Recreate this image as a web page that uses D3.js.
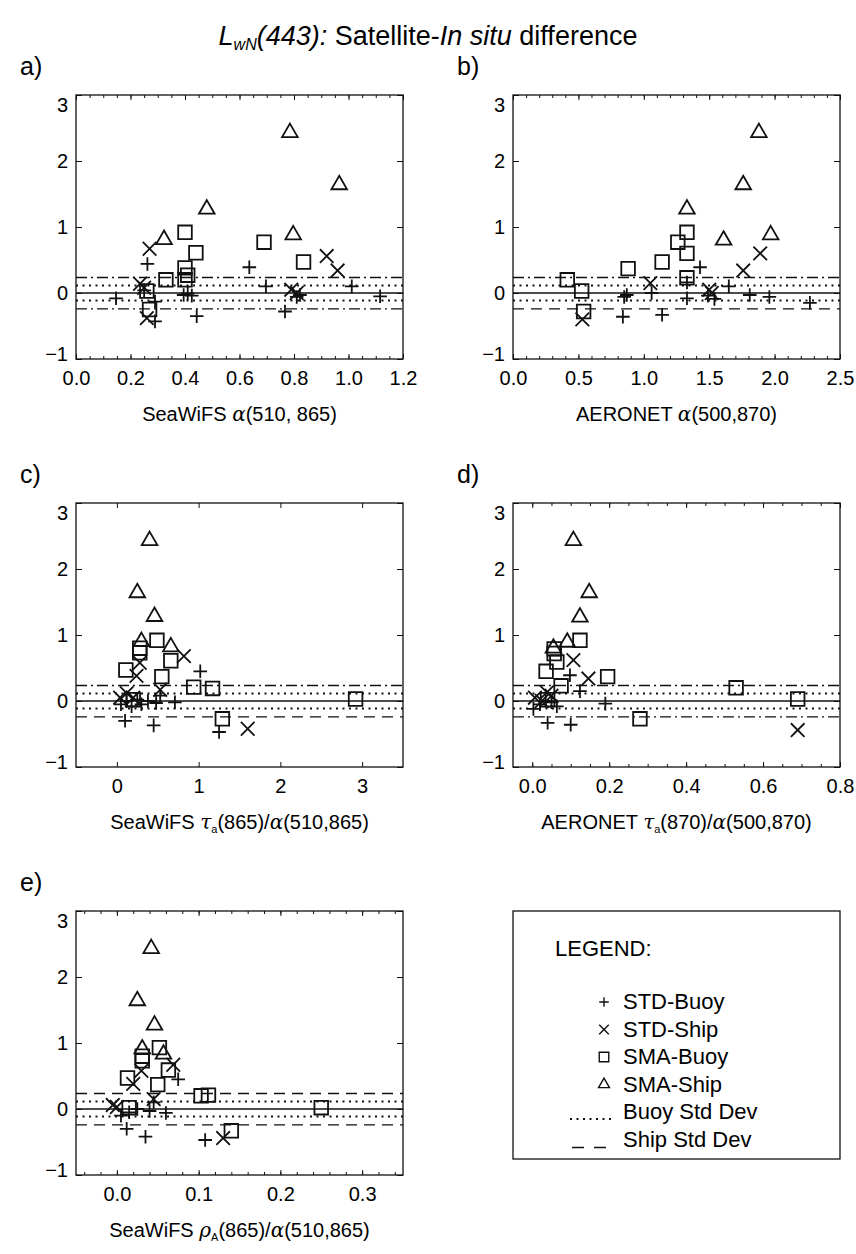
<!DOCTYPE html>
<html>
<head>
<meta charset="utf-8">
<script src="https://cdn.jsdelivr.net/npm/d3@7"></script>
<style>
  body { margin: 0; background: #fff; }
  svg { display: block; font-family: "Liberation Sans", Arial, Helvetica, sans-serif; }
</style>
</head>
<body>
<div id="chart"></div>
<script>
// LwN(443) satellite - in situ differences
var yTicks = [-1, 0, 1, 2, 3];

// reference lines: mean, buoy std dev, ship std dev
var meanLine = 0;
var buoyStd = [0.115, -0.115];
var shipStd = [0.235, -0.24];

// panel a: SeaWiFS alpha(510,865)
var aStdBuoy = [[0.147,-0.08],[0.262,0.44],[0.25,0.04],[0.29,-0.13],[0.29,-0.43],[0.395,-0.03],[0.41,-0.01],[0.425,-0.04],[0.443,-0.35],[0.636,0.39],[0.697,0.10],[0.767,-0.28],[0.81,-0.06],[0.822,-0.03],[1.012,0.10],[1.116,-0.05]];
var aStdShip = [[0.27,0.67],[0.235,0.14],[0.25,0.08],[0.26,-0.38],[0.79,0.05],[0.81,0.0],[0.92,0.56],[0.96,0.34]];
var aSmaBuoy = [[0.40,0.92],[0.44,0.61],[0.69,0.77],[0.835,0.47],[0.40,0.38],[0.41,0.27],[0.40,0.20],[0.33,0.20],[0.26,0.03],[0.27,-0.25]];
var aSmaShip = [[0.785,2.43],[0.966,1.64],[0.48,1.27],[0.797,0.88],[0.323,0.81]];

// panel b: AERONET alpha(500,870)
var bStdBuoy = [[1.43,0.39],[1.65,0.10],[1.33,0.16],[1.81,-0.03],[1.96,-0.06],[2.27,-0.15],[1.33,-0.08],[1.54,-0.09],[1.49,-0.04],[0.87,-0.03],[0.85,-0.06],[0.84,-0.36],[1.14,-0.33],[1.06,0.0]];
var bStdShip = [[1.05,0.15],[1.50,0.05],[1.52,0.0],[1.76,0.34],[1.89,0.60],[0.53,-0.40]];
var bSmaBuoy = [[1.33,0.92],[1.26,0.77],[1.33,0.60],[1.14,0.47],[0.88,0.37],[1.33,0.23],[0.415,0.20],[0.525,0.03],[0.54,-0.28]];
var bSmaShip = [[1.88,2.43],[1.76,1.64],[1.33,1.27],[1.97,0.88],[1.61,0.80]];

// panel c: SeaWiFS tau_a(865)/alpha(510,865)
var cStdBuoy = [[1.02,0.45],[0.53,0.08],[0.48,-0.03],[0.71,-0.02],[0.05,-0.05],[0.12,0.0],[0.18,-0.08],[0.25,0.02],[0.30,-0.05],[0.10,-0.30],[0.45,-0.37],[1.25,-0.47],[0.38,0.0]];
var cStdShip = [[0.82,0.68],[0.28,0.58],[0.24,0.38],[0.53,0.17],[0.04,0.05],[0.20,0.05],[0.12,0.12],[1.60,-0.42]];
var cSmaBuoy = [[0.49,0.92],[0.28,0.80],[0.28,0.73],[0.66,0.61],[0.11,0.47],[0.55,0.37],[0.94,0.21],[1.17,0.19],[2.92,0.03],[0.20,0.02],[1.29,-0.27]];
var cSmaShip = [[0.40,2.43],[0.25,1.64],[0.46,1.28],[0.30,0.90],[0.66,0.82]];

// panel d: AERONET tau_a(870)/alpha(500,870)
var dStdBuoy = [[0.098,0.39],[0.124,0.15],[0.19,-0.04],[0.064,-0.08],[0.003,-0.12],[0.04,-0.33],[0.10,-0.36],[0.02,-0.05],[0.035,0.0],[0.05,-0.02]];
var dStdShip = [[0.107,0.62],[0.146,0.34],[0.038,0.13],[0.007,0.05],[0.025,0.0],[0.05,0.08],[0.69,-0.44]];
var dSmaBuoy = [[0.124,0.92],[0.057,0.79],[0.057,0.72],[0.064,0.59],[0.036,0.45],[0.196,0.37],[0.075,0.23],[0.53,0.20],[0.69,0.03],[0.04,0.02],[0.28,-0.27]];
var dSmaShip = [[0.107,2.43],[0.148,1.64],[0.124,1.27],[0.091,0.89],[0.055,0.80]];

// panel e: SeaWiFS rho_A(865)/alpha(510,865)
var eStdBuoy = [[0.075,0.45],[0.045,0.10],[0.04,-0.03],[0.06,-0.06],[0.005,-0.10],[0.012,-0.30],[0.035,-0.42],[0.108,-0.47],[0.025,0.0],[0.015,-0.05]];
var eStdShip = [[0.069,0.67],[0.03,0.58],[0.02,0.38],[0.045,0.15],[0.0,0.03],[-0.005,0.06],[0.13,-0.44]];
var eSmaBuoy = [[0.052,0.93],[0.031,0.80],[0.031,0.73],[0.063,0.59],[0.013,0.47],[0.05,0.37],[0.103,0.20],[0.112,0.21],[0.25,0.02],[0.015,0.02],[0.14,-0.33]];
var eSmaShip = [[0.042,2.43],[0.025,1.64],[0.046,1.27],[0.031,0.91],[0.057,0.83]];

var legendLabels = ["STD-Buoy", "STD-Ship", "SMA-Buoy", "SMA-Ship", "Buoy Std Dev", "Ship Std Dev"];

var width = 856, height = 1254;
var W = 327, H = 264;

var svg = d3.select("#chart").append("svg")
    .attr("width", width)
    .attr("height", height);

svg.append("rect").attr("width", width).attr("height", height).attr("fill", "#fff");

// marker shapes (stroked outlines)
function plusPath(r) { return "M" + (-r) + ",0H" + r + "M0," + (-r) + "V" + r; }
function timesPath(r) { return "M" + (-r) + "," + (-r) + "L" + r + "," + r + "M" + (-r) + "," + r + "L" + r + "," + (-r); }
function squarePath(r) { return "M" + (-r) + "," + (-r) + "H" + r + "V" + r + "H" + (-r) + "Z"; }
function trianglePath(r) {
    var h = r * Math.sqrt(3);
    return "M0," + (-h * 2 / 3) + "L" + r + "," + (h / 3) + "L" + (-r) + "," + (h / 3) + "Z";
}
var shapes = [
    function (s) { return plusPath(6.8 * s); },
    function (s) { return timesPath(6.8 * s); },
    function (s) { return squarePath(6.8 * s); },
    function (s) { return trianglePath(7.8 * s); }
];

var dotted = "2,4.5", dashed = "11,7", dashDot = "11,4,2,4";

var panels = [
    {letter: "a)", left: 76, top: 95, domain: [0, 1.2], ticks: d3.range(0, 1.21, 0.2), minor: d3.range(0, 1.2001, 0.05), fmt: ".1f",
     upper: dashDot, lower: dashDot, series: [aStdBuoy, aStdShip, aSmaBuoy, aSmaShip],
     title: [{t: "SeaWiFS "}, {t: "\u03b1", g: 1}, {t: "(510, 865)"}]},
    {letter: "b)", left: 513, top: 95, domain: [0, 2.5], ticks: d3.range(0, 2.51, 0.5), minor: d3.range(0, 2.5001, 0.1), fmt: ".1f",
     upper: dashDot, lower: dashed, series: [bStdBuoy, bStdShip, bSmaBuoy, bSmaShip],
     title: [{t: "AERONET "}, {t: "\u03b1", g: 1}, {t: "(500,870)"}]},
    {letter: "c)", left: 76, top: 503, domain: [-0.5, 3.5], ticks: [0, 1, 2, 3], minor: [], fmt: "d",
     upper: dashDot, lower: dashed, series: [cStdBuoy, cStdShip, cSmaBuoy, cSmaShip],
     title: [{t: "SeaWiFS "}, {t: "\u03c4", g: 1}, {t: "a", sub: 1}, {t: "(865)/"}, {t: "\u03b1", g: 1}, {t: "(510,865)"}]},
    {letter: "d)", left: 513, top: 503, domain: [-0.05, 0.8], ticks: d3.range(0, 0.81, 0.2), minor: d3.range(0, 0.8001, 0.05), fmt: ".1f",
     upper: dashDot, lower: dashDot, series: [dStdBuoy, dStdShip, dSmaBuoy, dSmaShip],
     title: [{t: "AERONET "}, {t: "\u03c4", g: 1}, {t: "a", sub: 1}, {t: "(870)/"}, {t: "\u03b1", g: 1}, {t: "(500,870)"}]},
    {letter: "e)", left: 76, top: 911, domain: [-0.05, 0.35], ticks: d3.range(0, 0.31, 0.1), minor: d3.range(-0.04, 0.3501, 0.02), fmt: ".1f",
     upper: dashed, lower: dashed, series: [eStdBuoy, eStdShip, eSmaBuoy, eSmaShip],
     title: [{t: "SeaWiFS "}, {t: "\u03c1", g: 1}, {t: "A", sub: 1}, {t: "(865)/"}, {t: "\u03b1", g: 1}, {t: "(510,865)"}]}
];

// writes a mixed text (greek italic letters, subscripts) into a text element
function richText(textSel, parts, size) {
    var shift = 0;
    parts.forEach(function (p) {
        var ts = textSel.append("tspan").text(p.t);
        if (p.g) ts.attr("font-family", "'DejaVu Serif', 'Liberation Serif', serif").attr("font-style", "italic");
        if (p.sub) {
            ts.attr("font-size", size * 0.55).attr("dy", 4);
            shift = 4;
        } else if (shift) {
            ts.attr("dy", -shift);
            shift = 0;
        }
    });
}

function drawPanel(p) {
    var g = svg.append("g").attr("transform", "translate(" + p.left + "," + p.top + ")");
    var x = d3.scaleLinear().domain(p.domain).range([0, W]);
    var y = d3.scaleLinear().domain([-1, 3]).range([H, 0]);

    // reference lines
    var lines = [
        {v: meanLine, dash: null},
        {v: buoyStd[0], dash: dotted}, {v: buoyStd[1], dash: dotted},
        {v: shipStd[0], dash: p.upper}, {v: shipStd[1], dash: p.lower}
    ];
    g.selectAll(".ref").data(lines).enter().append("line")
        .attr("class", "ref")
        .attr("x1", 0).attr("x2", W)
        .attr("y1", function (d) { return y(d.v); })
        .attr("y2", function (d) { return y(d.v); })
        .attr("stroke", "#111")
        .attr("stroke-width", function (d) { return d.dash === dotted ? 2 : 1.4; })
        .attr("stroke-dasharray", function (d) { return d.dash; });

    // axes with inward ticks on all four sides
    var axes = [
        g.append("g").attr("transform", "translate(0," + H + ")")
            .call(d3.axisBottom(x).tickValues(p.ticks).tickSize(-5).tickPadding(12).tickFormat(d3.format(p.fmt))),
        g.append("g").attr("transform", "translate(0," + H + ")")
            .call(d3.axisBottom(x).tickValues(p.minor).tickSize(-3).tickFormat("")),
        g.append("g")
            .call(d3.axisTop(x).tickValues(p.ticks).tickSize(-5).tickFormat("")),
        g.append("g")
            .call(d3.axisTop(x).tickValues(p.minor).tickSize(-3).tickFormat("")),
        g.append("g")
            .call(d3.axisLeft(y).tickValues(yTicks).tickSize(-6).tickPadding(8).tickFormat(d3.format("d"))),
        g.append("g").attr("transform", "translate(" + W + ",0)")
            .call(d3.axisRight(y).tickValues(yTicks).tickSize(-6).tickFormat(""))
    ];
    axes.forEach(function (a) {
        a.attr("font-size", null).attr("font-family", null);
        a.select(".domain").remove();
        a.selectAll("line").attr("stroke", "#111").attr("stroke-width", 1);
        a.selectAll("text").attr("fill", "#000").style("font-size", "20px");
    });
    // end labels on the y axis sit inside the frame in the original
    axes[4].selectAll("text").attr("dy", function (d) {
        return d === 3 ? "0.8em" : d === -1 ? "0.05em" : "0.32em";
    });

    // frame
    g.append("rect").attr("width", W).attr("height", H)
        .attr("fill", "none").attr("stroke", "#111").attr("stroke-width", 1.3);

    // markers
    p.series.forEach(function (data, i) {
        g.append("g").selectAll("path").data(data).enter().append("path")
            .attr("transform", function (d) { return "translate(" + x(d[0]) + "," + y(d[1]) + ")"; })
            .attr("d", shapes[i](1))
            .attr("fill", "none")
            .attr("stroke", "#111")
            .attr("stroke-width", 1.8);
    });

    // panel letter
    svg.append("text")
        .attr("x", p.left - 56).attr("y", p.top - 20)
        .attr("font-size", 25).text(p.letter);

    // x-axis title
    var t = g.append("text")
        .attr("x", W / 2).attr("y", H + 62)
        .attr("text-anchor", "middle")
        .attr("font-size", 20);
    richText(t, p.title, 20);
}

panels.forEach(drawPanel);

// main title
var title = svg.append("text")
    .attr("x", 428).attr("y", 45)
    .attr("text-anchor", "middle")
    .attr("font-size", 27);
title.append("tspan").attr("font-style", "italic").text("L");
title.append("tspan").attr("font-style", "italic").attr("font-size", 16).attr("dy", 5).text("wN");
title.append("tspan").attr("font-style", "italic").attr("dy", -5).text("(443):");
title.append("tspan").text(" Satellite-");
title.append("tspan").attr("font-style", "italic").text("In situ");
title.append("tspan").text(" difference");

// legend
var lg = svg.append("g").attr("transform", "translate(513,911)");
lg.append("rect").attr("width", W).attr("height", 248)
    .attr("fill", "none").attr("stroke", "#111").attr("stroke-width", 1.3);
lg.append("text").attr("x", 42).attr("y", 45).attr("font-size", 22).text("LEGEND:");

var rowY = d3.scaleLinear().domain([0, 1]).range([98, 125.5]);
var rows = lg.selectAll(".row").data(legendLabels).enter().append("g")
    .attr("class", "row")
    .attr("transform", function (d, i) { return "translate(0," + rowY(i) + ")"; });
rows.append("text").attr("x", 110).attr("font-size", 22).text(function (d) { return d; });
rows.filter(function (d, i) { return i < 4; }).append("path")
    .attr("transform", "translate(91,-7)")
    .attr("d", function (d, i) { return shapes[i](0.7); })
    .attr("fill", "none").attr("stroke", "#111").attr("stroke-width", 1.4);
rows.filter(function (d, i) { return i >= 4; }).append("line")
    .attr("x1", function (d, i) { return i === 0 ? 57 : 59; })
    .attr("x2", 98)
    .attr("y1", function (d, i) { return i === 0 ? 0 : 1; })
    .attr("y2", function (d, i) { return i === 0 ? 0 : 1; })
    .attr("stroke", "#111")
    .attr("stroke-width", function (d, i) { return i === 0 ? 1.8 : 1.4; })
    .attr("stroke-dasharray", function (d, i) { return i === 0 ? dotted : "12,10"; });
</script>
</body>
</html>
